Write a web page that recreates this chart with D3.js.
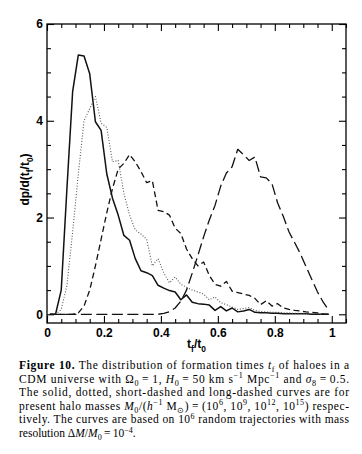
<!DOCTYPE html>
<html>
<head>
<meta charset="utf-8">
<script src="https://cdn.jsdelivr.net/npm/d3@7"></script>
<style>
body { margin: 0; background: #fff; }
.tick text { font-family: "Liberation Sans", Arial, sans-serif; font-size: 12px; font-weight: bold; }
</style>
</head>
<body>
<div id="graph"></div>
<script>
// bin centres t_f/t_0
var tBins = [0.01,0.03,0.05,0.07,0.09,0.11,0.13,0.15,0.17,0.19,
	0.21,0.23,0.25,0.27,0.29,0.31,0.33,0.35,0.37,0.39,
	0.41,0.43,0.45,0.47,0.49,0.51,0.53,0.55,0.57,0.59,
	0.61,0.63,0.65,0.67,0.69,0.71,0.73,0.75,0.77,0.79,
	0.81,0.83,0.85,0.87,0.89,0.91,0.93,0.95,0.97,0.99];

// M0 = 1e6
var solid = [0,0,0.5,2.6,4.6,5.36,5.34,4.97,3.98,3.8,
	2.9,2.4,2.05,1.63,1.53,1.15,0.9,0.86,0.8,0.6,
	0.54,0.49,0.46,0.3,0.4,0.25,0.22,0.21,0.19,0.08,
	0.16,0.07,0.13,0.05,0.07,0.1,0.04,0.03,0.03,0.02,
	0.02,0.01,0.01,0.01,0.01,0.01,0,0,0,0];
// M0 = 1e9
var dotted = [0,0,0.1,0.6,1.7,2.9,4.0,4.25,4.5,3.95,
	3.86,3.15,3.18,2.5,2.05,1.74,1.66,1.55,1.0,1.15,
	0.86,0.65,0.77,0.62,0.56,0.5,0.46,0.42,0.3,0.36,
	0.24,0.2,0.15,0.1,0.12,0.14,0.08,0.06,0.05,0.04,
	0.04,0.03,0.03,0.02,0.02,0.02,0.01,0.01,0,0];
// M0 = 1e12
var shortDash = [0,0,0,0,0,0.03,0.17,0.5,1.0,1.55,
	2.1,2.6,3.0,3.12,3.3,3.15,2.95,2.72,2.76,2.15,
	2.12,2.05,1.78,1.67,1.35,1.15,1.0,1.08,0.8,0.62,
	0.58,0.68,0.48,0.45,0.42,0.39,0.33,0.2,0.28,0.17,
	0.22,0.13,0.1,0.08,0.07,0.05,0.04,0.03,0.01,0];
// M0 = 1e15
var longDash = [0,0,0,0,0,0,0,0,0,0,
	0,0,0,0,0,0,0,0,0,0,
	0.02,0.05,0.13,0.27,0.5,0.85,1.22,1.6,1.95,2.25,
	2.65,2.92,3.05,3.41,3.3,3.18,3.25,2.84,2.82,2.7,
	2.3,2.02,1.7,1.48,1.25,0.98,0.72,0.46,0.25,0.08];

var xMajor = [0, 0.2, 0.4, 0.6, 0.8, 1];
var xMinor = [0.05,0.1,0.15,0.25,0.3,0.35,0.45,0.5,0.55,0.65,0.7,0.75,0.85,0.9,0.95,1.05];
var yMajor = [0, 2, 4, 6];
var yMinor = [0.5,1,1.5,2.5,3,3.5,4.5,5,5.5];

(function () {
	var w = 362, h = 454;
	var pLeft = 47, pRight = 346, pTop = 24, pBottom = 323;

	var svg = d3.select("#graph")
		.append("svg")
		.attr("width", w)
		.attr("height", h);

	var xScale = d3.scaleLinear().domain([0, 1.05]).range([pLeft, pRight]);
	var yScale = d3.scaleLinear().domain([-0.18, 6]).range([pBottom, pTop]);

	function fmtX(d) { return d == 0 || d == 1 ? String(d) : d.toFixed(1); }

	// axes, ticks pointing inward on all four sides
	function drawAxis(axis, tx, ty, showLabels) {
		var g = svg.append("g")
			.attr("transform", "translate(" + tx + "," + ty + ")")
			.call(axis);
		g.select(".domain").remove();
		g.selectAll(".tick line").attr("stroke", "#000").attr("stroke-width", 1.1);
		if (!showLabels) g.selectAll(".tick text").remove();
		else g.selectAll(".tick text").attr("fill", "#000");
		return g;
	}

	drawAxis(d3.axisBottom(xScale).tickValues(xMajor).tickSize(-7).tickPadding(5).tickFormat(fmtX), 0, pBottom, true);
	drawAxis(d3.axisBottom(xScale).tickValues(xMinor).tickSize(-4).tickFormat(""), 0, pBottom, false);
	drawAxis(d3.axisTop(xScale).tickValues(xMajor).tickSize(-7).tickFormat(""), 0, pTop, false);
	drawAxis(d3.axisTop(xScale).tickValues(xMinor).tickSize(-4).tickFormat(""), 0, pTop, false);

	drawAxis(d3.axisLeft(yScale).tickValues(yMajor).tickSize(-7).tickPadding(4).tickFormat(d3.format("d")), pLeft, 0, true);
	drawAxis(d3.axisLeft(yScale).tickValues(yMinor).tickSize(-4).tickFormat(""), pLeft, 0, false);
	drawAxis(d3.axisRight(yScale).tickValues(yMajor).tickSize(-7).tickFormat(""), pRight, 0, false);
	drawAxis(d3.axisRight(yScale).tickValues(yMinor).tickSize(-4).tickFormat(""), pRight, 0, false);

	svg.append("rect")
		.attr("x", pLeft)
		.attr("y", pTop)
		.attr("width", pRight - pLeft)
		.attr("height", pBottom - pTop)
		.attr("fill", "none")
		.attr("stroke", "#000")
		.attr("stroke-width", 1.3);

	// curves
	var line = d3.line()
		.x(function (d) { return xScale(d[0]); })
		.y(function (d) { return yScale(d[1]); });

	var curves = [
		{ vals: solid, dash: null, width: 1.5, color: "#111" },
		{ vals: dotted, dash: "1,1.8", width: 1.1, color: "#555" },
		{ vals: shortDash, dash: "6,3.5", width: 1.3, color: "#111" },
		{ vals: longDash, dash: "11,4.5", width: 1.3, color: "#111" }
	];

	var plot = svg.append("g").attr("id", "curves");
	curves.forEach(function (c) {
		var pts = tBins.map(function (t, i) { return [t, c.vals[i]]; });
		plot.append("path")
			.datum(pts)
			.attr("d", line)
			.attr("fill", "none")
			.attr("stroke", c.color)
			.attr("stroke-width", c.width)
			.attr("stroke-linejoin", "round")
			.attr("stroke-dasharray", c.dash);
	});

	// text with sub/superscripts, segments: [text, style]
	function richText(sel, segs, size) {
		var shift = 0;
		segs.forEach(function (s) {
			var st = s[1] || "";
			var target = 0;
			if (st == "sub") target = size * 0.3;
			if (st == "sup") target = -size * 0.38;
			var ts = sel.append("tspan")
				.attr("dy", target - shift)
				.text(s[0]);
			shift = target;
			if (target != 0) ts.attr("font-size", size * 0.7);
			if (st == "bold") ts.attr("font-weight", "bold");
			if (st == "ital") ts.attr("font-style", "italic");
		});
	}

	// axis titles
	var ylab = svg.append("text")
		.attr("transform", "translate(29," + ((pTop + pBottom) / 2 + 6) + ") rotate(-90)")
		.attr("text-anchor", "middle")
		.attr("font-family", "Liberation Sans, Arial, sans-serif")
		.attr("font-weight", "bold")
		.attr("font-size", 12);
	richText(ylab, [["dp/d(t", ""], ["f", "sub"], ["/t", ""], ["0", "sub"], [")", ""]], 12);

	var xlab = svg.append("text")
		.attr("x", (pLeft + pRight) / 2)
		.attr("y", 348)
		.attr("text-anchor", "middle")
		.attr("font-family", "Liberation Sans, Arial, sans-serif")
		.attr("font-weight", "bold")
		.attr("font-size", 12);
	richText(xlab, [["t", ""], ["f", "sub"], ["/t", ""], ["0", "sub"]], 12);

	// caption
	var capLines = [
		[["Figure 10.", "bold"], [" The distribution of formation times ", ""], ["t", "ital"], ["f", "sub"], [" of haloes in a", ""]],
		[["CDM universe with Ω", ""], ["0", "sub"], ["\u2009=\u20091, ", ""], ["H", "ital"], ["0", "sub"], ["\u2009=\u200950 km s", ""], ["\u22121", "sup"], [" Mpc", ""], ["\u22121", "sup"], [" and ", ""], ["σ", "ital"], ["8", "sub"], ["\u2009=\u20090.5.", ""]],
		[["The solid, dotted, short-dashed and long-dashed curves are for", ""]],
		[["present halo masses ", ""], ["M", "ital"], ["0", "sub"], ["/(", ""], ["h", "ital"], ["\u22121", "sup"], [" M", ""], ["⊙", "sub"], [")\u2009=\u2009(10", ""], ["6", "sup"], [", 10", ""], ["9", "sup"], [", 10", ""], ["12", "sup"], [", 10", ""], ["15", "sup"], [") respec-", ""]],
		[["tively. The curves are based on 10", ""], ["6", "sup"], [" random trajectories with mass", ""]],
		[["resolution Δ", ""], ["M", "ital"], ["/", ""], ["M", "ital"], ["0", "sub"], ["\u2009=\u200910", ""], ["\u22124", "sup"], [".", ""]]
	];

	var capX = 19, capW = 330, capY = 369, capStep = 13.6, capSize = 11.5;
	capLines.forEach(function (segs, i) {
		var t = svg.append("text")
			.attr("x", capX)
			.attr("y", capY + i * capStep)
			.attr("font-family", "Liberation Serif, 'Times New Roman', serif")
			.attr("font-size", capSize)
			.attr("fill", "#000");
		if (i < capLines.length - 1) {
			t.attr("textLength", capW).attr("lengthAdjust", "spacing");
		}
		richText(t, segs, capSize);
	});
})();
</script>
</body>
</html>
